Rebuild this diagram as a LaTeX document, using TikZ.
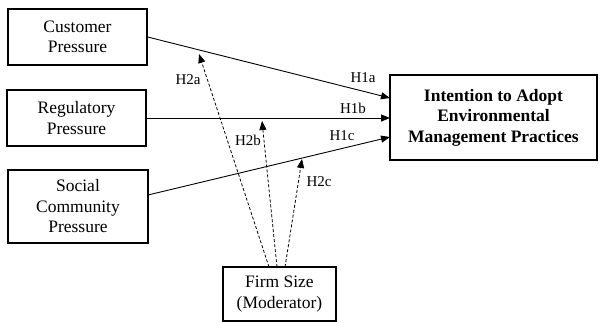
\documentclass[tikz,border=0pt]{standalone}
\usepackage{fontspec}
\setmainfont{Liberation Serif}
\usetikzlibrary{arrows.meta,calc}
\begin{document}
\begin{tikzpicture}[x=1pt,y=-1pt,
  box/.style={draw,line width=1.4pt,inner sep=0pt,align=center,font=\fontsize{17.5}{20.5}\selectfont},
  conn/.style={line width=0.9pt,-{Triangle[length=9pt,width=7pt]}},
  modconn/.style={line width=0.8pt,dash pattern=on 3pt off 2pt,-{Triangle[length=9pt,width=7pt]}},
  lbl/.style={font=\fontsize{15}{17}\selectfont,inner sep=0pt}]
\useasboundingbox (0,0) rectangle (600,323);
\node[box,minimum width=139pt,minimum height=56pt] (cust) at (77.5,37) {Customer\\Pressure};
\node[box,minimum width=139pt,minimum height=56pt] (reg) at (76.5,118) {Regulatory\\Pressure};
\node[box,minimum width=140pt,minimum height=73pt] (soc) at (78,206.5) {Social\\Community\\Pressure};
\node[box,minimum width=207pt,minimum height=85pt,font=\fontsize{17.5}{20.5}\selectfont\bfseries] (int) at (493.5,117.5) {Intention to Adopt\\Environmental\\Management Practices};
\node[box,minimum width=113pt,minimum height=54pt] (firm) at (279.5,294) {Firm Size\\(Moderator)};
\coordinate (socout) at (148,195);
\coordinate (ta) at (390,98);
\coordinate (tb) at (390,118);
\coordinate (tc) at (390,137);
\draw[conn] (cust.east) -- (ta);
\draw[conn] (reg.east) -- (tb);
\draw[conn] (socout) -- (tc);
\coordinate (fa) at (269,267);
\coordinate (fb) at (277,267);
\coordinate (fc) at (285,267);
\coordinate (ma) at (199,54);
\coordinate (mb) at (262,121);
\coordinate (mc) at (302,159);
\draw[modconn] (fa) -- (ma);
\draw[modconn] (fb) -- (mb);
\draw[modconn] (fc) -- (mc);
\node[lbl] (h1a) at (363,78) {H1a};
\node[lbl] (h1b) at (353,108) {H1b};
\node[lbl] (h1c) at (342,136) {H1c};
\node[lbl] (h2a) at (188,80) {H2a};
\node[lbl] (h2b) at (248,140) {H2b};
\node[lbl] (h2c) at (319,182) {H2c};
\end{tikzpicture}
\end{document}
